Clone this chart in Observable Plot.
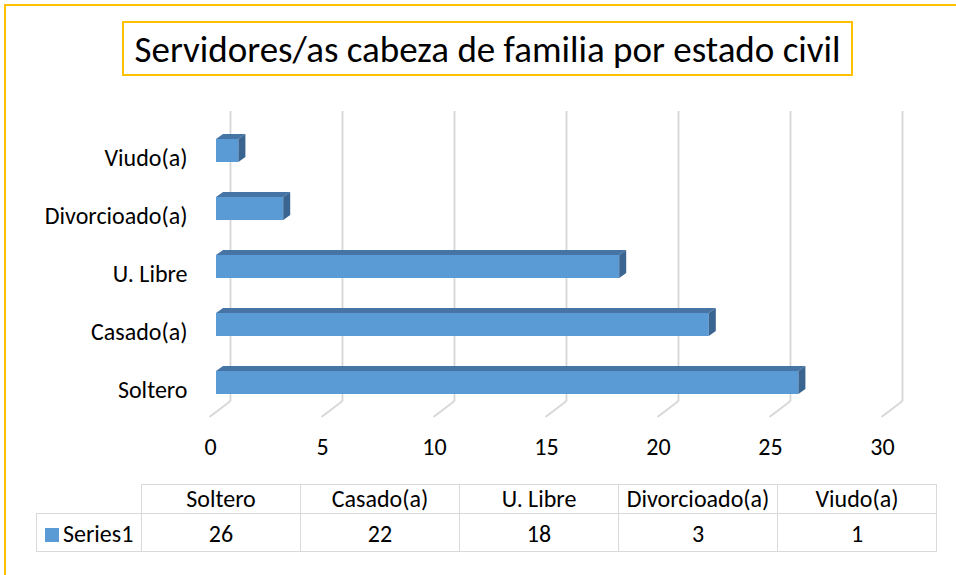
<!DOCTYPE html>
<html>
<head>
<meta charset="utf-8">
<script src="https://cdn.jsdelivr.net/npm/d3@7"></script>
<script src="https://cdn.jsdelivr.net/npm/@observablehq/plot@0.6"></script>
<style>
  html, body { margin: 0; padding: 0; background: #fff; width: 956px; height: 575px; overflow: hidden; }
  body { position: relative; font-family: Carlito, Calibri, Lato, sans-serif; }
  #frame { position: absolute; left: 4px; top: 4px; width: 2000px; height: 2000px; border: 2px solid #FFC000; box-sizing: border-box; }
  #title { position: absolute; left: 122px; top: 21px; width: 731px; height: 55px; border: 2px solid #FFC000; box-sizing: border-box;
           font-size: 37px; display: flex; align-items: center; justify-content: center; color: #000; background: #fff; padding-top: 1px; }
  #chart { position: absolute; left: 0; top: 0; }
  #table { position: absolute; left: 36px; top: 484px; border-collapse: collapse; font-size: 24px; color: #000; }
  #table td { border: 1.5px solid #d9d9d9; padding: 0; text-align: center; box-sizing: border-box; line-height: 26px; vertical-align: middle; }
  #table tr.head td { height: 29px; }
  #table tr.vals td { height: 38px; padding-top: 3px; }
  #table td.corner { border-top: none; border-left: none; width: 105px; }
  #table td.cell { width: 159px; }
  #table td.series { text-align: left; padding-left: 8px; white-space: nowrap; }
  .key { display: inline-block; width: 14px; height: 14px; background: #5B9BD5; margin-right: 4px; vertical-align: 0px; }
</style>
</head>
<body>
<div id="frame"></div>
<div id="chart"></div>
<div id="title"></div>
<table id="table"></table>
<script>
const titleText = "Servidores/as cabeza de familia por estado civil";
const categories = ["Soltero", "Casado(a)", "U. Libre", "Divorcioado(a)", "Viudo(a)"];
const values = [26, 22, 18, 3, 1];
const xTicks = [0, 5, 10, 15, 20, 25, 30];
const seriesName = "Series1";

const data = categories.map((c, i) => ({cat: c, value: values[i]}));
const font = "Carlito, Calibri, Lato, sans-serif";

document.getElementById("title").textContent = titleText;

const svgNS = "http://www.w3.org/2000/svg";
function poly(g, pts, fill) {
  const p = document.createElementNS(svgNS, "polygon");
  p.setAttribute("points", pts.map(d => d.join(",")).join(" "));
  p.setAttribute("fill", fill);
  g.appendChild(p);
}

// 3D faces drawn around the front rects that Plot's barX produced
function bar3d(index, scales, values, dimensions, context, next) {
  const g = next(index, scales, values, dimensions, context);
  const DX = 7, DY = 5;
  const rects = Array.from(g.querySelectorAll("rect"));
  for (const r of rects) {
    const x = +r.getAttribute("x"), y = +r.getAttribute("y");
    const w = +r.getAttribute("width"), h = +r.getAttribute("height");
    poly(g, [[x, y], [x + w, y], [x + w + DX, y - DY], [x + DX, y - DY]], "#4674A4");
    poly(g, [[x + w, y], [x + w + DX, y - DY], [x + w + DX, y + h - DY], [x + w, y + h]], "#3A6590");
  }
  return g;
}

// floor edge of each gridline
function floorDiag(index, scales, values, dimensions, context, next) {
  const g = next(index, scales, values, dimensions, context);
  const lines = Array.from(g.querySelectorAll("line"));
  for (const l of lines) {
    const x = +l.getAttribute("x1"), y = Math.max(+l.getAttribute("y1"), +l.getAttribute("y2"));
    const d = document.createElementNS(svgNS, "line");
    d.setAttribute("x1", x); d.setAttribute("y1", y);
    d.setAttribute("x2", x - 21); d.setAttribute("y2", y + 16);
    g.appendChild(d);
  }
  return g;
}

const chart = Plot.plot({
  width: 956,
  height: 470,
  marginTop: 111,
  marginBottom: 69,
  marginLeft: 0,
  marginRight: 0,
  style: {fontFamily: font, background: "transparent", overflow: "visible"},
  x: {domain: [0, 30], range: [216, 888], axis: null},
  y: {domain: [...categories].reverse(), range: [121.6, 411.6], paddingInner: 0.6, paddingOuter: 0.3, axis: null},
  marks: [
    Plot.ruleX(xTicks, {x: d => d, dx: 14, stroke: "#d6d6d6", strokeWidth: 1.8, render: floorDiag}),
    Plot.barX(data, {x: "value", y: "cat", fill: "#5B9BD5", render: bar3d}),
    Plot.text(data, {x: 0, y: "cat", text: "cat", textAnchor: "end", dx: -29, dy: 7, fontSize: 24, fill: "#000"}),
    Plot.text(xTicks, {x: d => d, text: d => String(d), frameAnchor: "bottom", lineAnchor: "middle", dx: -6, dy: 45.5, fontSize: 24, fill: "#000"})
  ]
});
document.getElementById("chart").appendChild(chart);

// data table under the chart
const table = document.getElementById("table");
const head = document.createElement("tr"); head.className = "head";
const corner = document.createElement("td"); corner.className = "corner"; head.appendChild(corner);
categories.forEach(c => { const td = document.createElement("td"); td.className = "cell"; td.textContent = c; head.appendChild(td); });
table.appendChild(head);
const row = document.createElement("tr"); row.className = "vals";
const s = document.createElement("td"); s.className = "series";
s.innerHTML = '<span class="key"></span>'; s.appendChild(document.createTextNode(seriesName));
row.appendChild(s);
values.forEach(v => { const td = document.createElement("td"); td.className = "cell"; td.textContent = v; row.appendChild(td); });
table.appendChild(row);
</script>
</body>
</html>
